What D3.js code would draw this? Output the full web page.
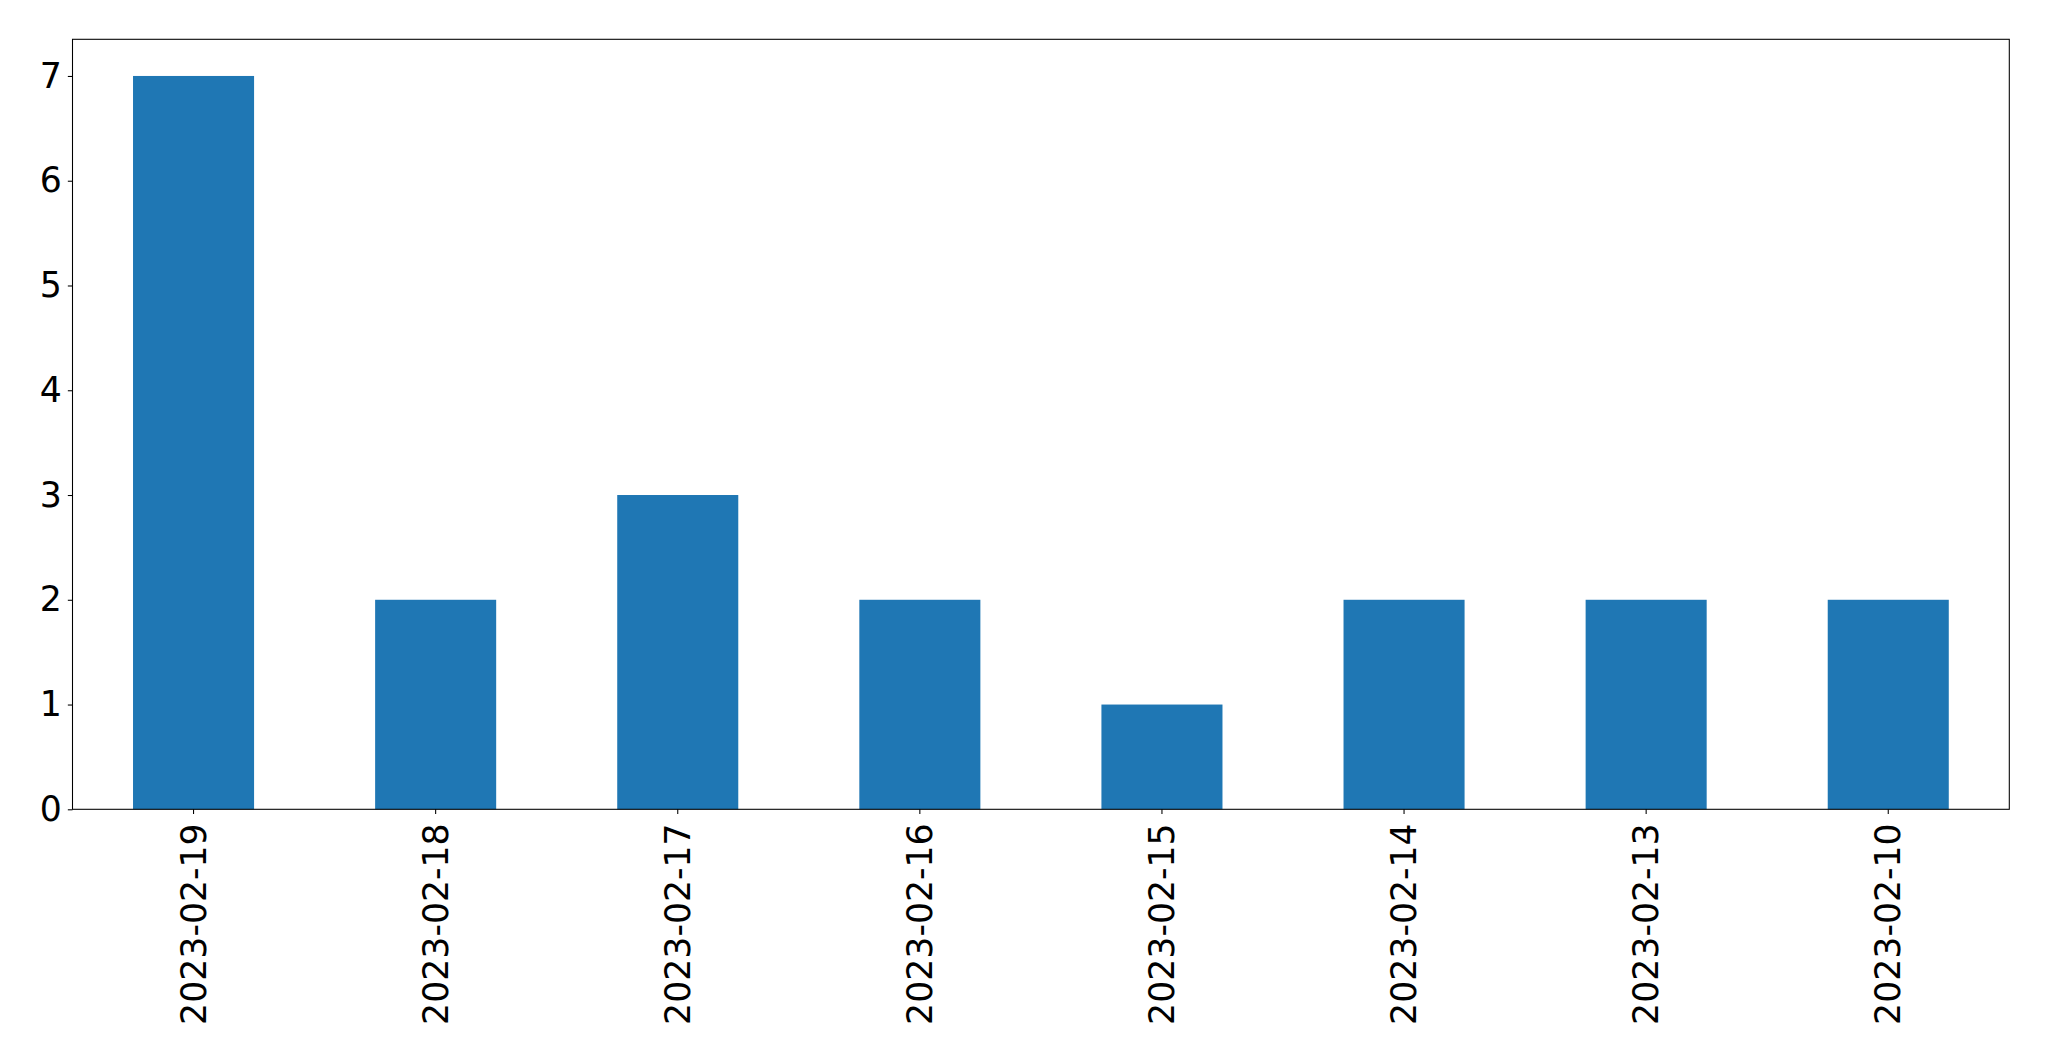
<!DOCTYPE html>
<html><head><meta charset="utf-8">
<script src="https://cdn.jsdelivr.net/npm/d3@7"></script>
<style>html,body{margin:0;padding:0;background:#fff;}</style>
</head><body>
<script>
const categories = ["2023-02-19","2023-02-18","2023-02-17","2023-02-16","2023-02-15","2023-02-14","2023-02-13","2023-02-10"];
const values = [7,2,3,2,1,2,2,2];
const yTicks = [0,1,2,3,4,5,6,7];

const W = 2049, H = 1061;
const m = {left:72.5, top:39.3, right:2049-2009.3, bottom:1061-809.3};
const svg = d3.select("body").append("svg").attr("width",W).attr("height",H)
  .style("font-family","'DejaVu Sans', sans-serif");

const x = d3.scaleBand().domain(categories).range([m.left, W-m.right]).paddingInner(0.5).paddingOuter(0.25);
const y = d3.scaleLinear().domain([0, 7*1.05]).range([H-m.bottom, m.top]);

svg.append("g").selectAll("rect").data(values).join("rect")
  .attr("x",(d,i)=>x(categories[i]))
  .attr("width",x.bandwidth())
  .attr("y",d=>y(d))
  .attr("height",d=>y(0)-y(d))
  .attr("fill","#1f77b4");

const fs = "34.7px";
const yAxis = svg.append("g").attr("transform",`translate(${m.left},0)`)
  .call(d3.axisLeft(y).tickValues(yTicks).tickFormat(d3.format("d")).tickSize(4.67).tickPadding(6));
yAxis.select(".domain").remove();
yAxis.selectAll("text").attr("font-size",fs).attr("fill","#000").attr("font-family","'DejaVu Sans', sans-serif");
yAxis.selectAll("line").attr("stroke","#000").attr("stroke-width",1.07);

const xAxis = svg.append("g").attr("transform",`translate(0,${H-m.bottom})`)
  .call(d3.axisBottom(x).tickSize(4.67).tickPadding(0));
xAxis.select(".domain").remove();
xAxis.selectAll("line").attr("stroke","#000").attr("stroke-width",1.07);
xAxis.selectAll("text")
  .attr("font-size",fs).attr("fill","#000").attr("font-family","'DejaVu Sans', sans-serif")
  .attr("text-anchor","end")
  .attr("transform","translate(0,14) rotate(-90)")
  .attr("x",0).attr("y",0).attr("dy","0.35em");

svg.append("rect")
  .attr("x",m.left).attr("y",m.top)
  .attr("width",W-m.left-m.right).attr("height",H-m.top-m.bottom)
  .attr("fill","none").attr("stroke","#000").attr("stroke-width",1.07);
</script>
</body></html>
